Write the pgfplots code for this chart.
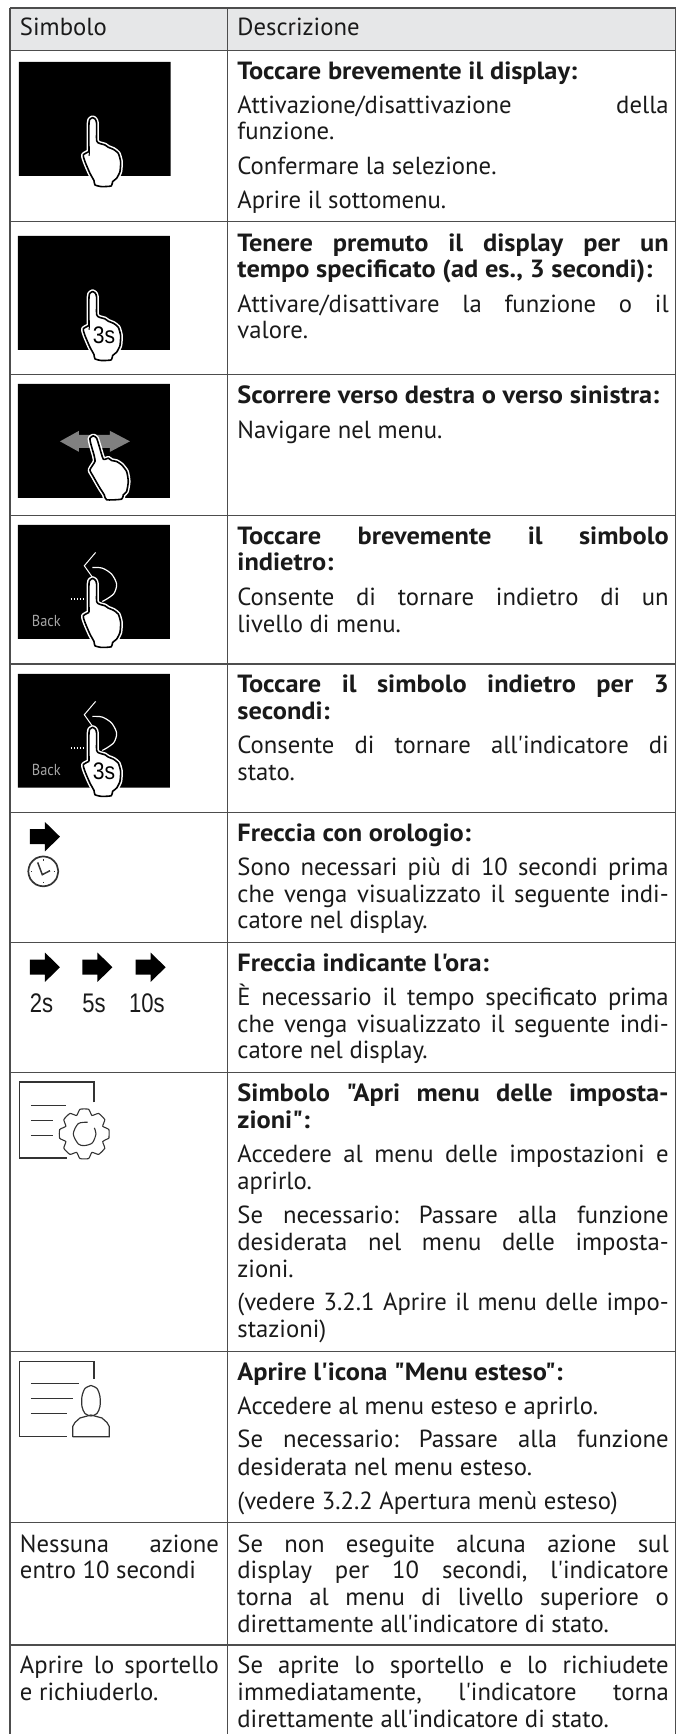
\documentclass[border=0pt]{standalone}
\usepackage{fontspec}
\usepackage{graphicx}
\usepackage{pgfplots}
\usepackage{pgfplotstable}
\pgfplotsset{compat=1.18}
\newfontfamily\bodyf{PT Sans}[BoldFeatures={FakeStretch=1.06}]
\newfontfamily\iconf{Liberation Sans}
\definecolor{txt}{HTML}{1A1A1A}
\definecolor{rule}{HTML}{4D4D4D}
\definecolor{head}{HTML}{E6E7E8}
\definecolor{ico}{HTML}{333333}
\newsavebox\mybox
\newcommand\fit[2]{\sbox\mybox{#2}\ifdim\wd\mybox>#1\relax\resizebox{#1}{\height}{\usebox\mybox}\else\makebox[#1][s]{#2}\fi}
\newcommand\txtsize{\frenchspacing\bodyf\fontsize{24.8}{26}\selectfont}
\renewcommand\textbf[1]{{\fontsize{25}{26}\bfseries #1}}
\tikzset{tx/.style={anchor=base west,inner sep=0pt,outer sep=0pt,text=txt}}
\newcommand\J[2]{\node[tx] at (axis cs:237.5,#1) {\txtsize\fit{431.5bp}{#2}};}
\newcommand\N[2]{\node[tx] at (axis cs:237.5,#1) {\txtsize #2};}
\newcommand\LJ[2]{\node[tx] at (axis cs:20,#1) {\txtsize\fit{199bp}{#2}};}
\newcommand\LN[2]{\node[tx] at (axis cs:20,#1) {\txtsize #2};}
\pgfplotstableread{
x y
57 125
57 40
60 28
68 23
76 28
80 40
80 92
88 100
105 105
115 112
130 118
145 130
152 155
150 185
140 205
128 215
124 228
95 230
75 225
72 212
60 190
45 155
40 135
57 125
}\handA
\pgfplotstableread{
x y
72 105
62 70
60 55
70 48
80 55
88 80
100 118
115 115
125 122
140 125
155 135
170 155
175 185
170 215
160 225
155 238
110 240
103 225
90 205
70 170
60 150
75 125
72 105
}\handB
\pgfplotstableread{
x y
45 43
90 43
90 22
135 66
90 110
90 88
45 88
45 43
}\arrowT
\pgfplotstableread{
x y
242 5
208 45
240 90
}\chev
\pgfplotstableread{
x y
232 50
262 52
290 70
305 100
297 128
275 145
262 152
}\backarc
\pgfplotstableread{
x y
168 145
212 145
}\dotsT
\pgfplotstableread{
x y
73.9 13
55.4 23
61.4 43
43 61.4
23 55.4
13 73.9
-13 73.9
-23 55.4
-43 61.4
-61.4 43
-55.4 23
-73.9 13
-73.9 -13
-55.4 -23
-61.4 -43
-43 -61.4
-23 -55.4
-13 -73.9
13 -73.9
23 -55.4
43 -61.4
61.4 -43
55.4 -23
73.9 -13
73.9 13
}\gear
\pgfplotstableread{
x y
218 143
190 147
175 178
190 208
208 213
232 205
243 178
238 160
}\gearin
\newcommand\Hand[3]{%
 \addplot[white,line width=4.6bp,smooth,tension=.35,line join=round] table[x expr=\thisrow{x}/3+#2,y expr=\thisrow{y}/3+#3]{#1};
 \addplot[black,fill=white,line width=1.6bp,smooth,tension=.35,line join=round] table[x expr=\thisrow{x}/3+#2,y expr=\thisrow{y}/3+#3]{#1};
}
\newcommand\Rect[4]{\addplot[fill=black,draw=none] coordinates {(#1,#3) (#2,#3) (#2,#4) (#1,#4) (#1,#3)};}
\newcommand\HL[1]{\addplot[rule,line width=1.3bp] coordinates {(10,#1) (676,#1)};}
\newcommand\Arr[2]{\addplot[fill=black,draw=none] table[x expr=\thisrow{x}/3+#1,y expr=\thisrow{y}/3+#2]{\arrowT};}
\newcommand\Back[1]{%
 \addplot[white,line width=1bp] table[x expr=\thisrow{x}/3+15,y expr=\thisrow{y}/3+#1]{\chev};
 \addplot[white,line width=1.2bp,smooth] table[x expr=\thisrow{x}/3+15,y expr=\thisrow{y}/3+#1]{\backarc};
 \addplot[white,line width=1.5bp,dash pattern=on 1.5bp off 1.5bp] table[x expr=\thisrow{x}/3+15,y expr=\thisrow{y}/3+#1]{\dotsT};
 \node[anchor=base west,inner sep=0pt,text=black!35] at (axis cs:31.7,#1+76) {\bodyf\fontsize{16}{18}\selectfont\scalebox{.9}[1]{Back}};
}
\newcommand\Three[1]{\node[anchor=base,inner sep=0pt,text=black] at (axis cs:104,#1) {\iconf\fontsize{24}{26}\selectfont\scalebox{.88}[1]{3s}};}
\begin{document}
\begin{tikzpicture}
\begin{axis}[scale only axis,width=687bp,height=1735bp,xmin=0,xmax=687,ymin=0,ymax=1735,
  y dir=reverse,hide axis,clip=false,no markers]
\addplot[fill=white,draw=none] coordinates {(0,0) (687,0) (687,1735) (0,1735) (0,0)};
\addplot[fill=head,draw=none] coordinates {(10,8) (676,8) (676,50.7) (10,50.7) (10,8)};
% rules
\HL{8}\HL{50.7}\HL{221.7}\HL{374.5}\HL{516}\HL{664.3}\HL{812.8}\HL{942.9}\HL{1073}\HL{1351.8}\HL{1523}\HL{1645.7}
\addplot[rule,line width=1.3bp] coordinates {(10,8) (10,1735)};
\addplot[rule,line width=1.3bp] coordinates {(227.5,8) (227.5,1735)};
\addplot[rule,line width=1.3bp] coordinates {(676,8) (676,1735)};
% black panels
\Rect{18.8}{170.7}{62}{176}
\Rect{18}{170}{236}{350}
\Rect{18}{170}{384}{498}
\Rect{18}{170}{525}{639}
\Rect{18}{170}{674}{788}
% row 3 arrow
\addplot[fill=black!50,draw=none] coordinates {(60,441.5) (79,431) (79,435) (110,435) (110,431) (130,441.5) (110,452) (110,448) (79,448) (79,452) (60,441.5)};
\Back{551}
\Back{700}
\Hand{\handA}{70}{110}
\Hand{\handA}{70}{284}
\Hand{\handB}{70}{420}
\Hand{\handA}{70}{571}
\Hand{\handA}{70}{720}
\addplot[black,line width=1bp] coordinates {(89.5,150) (89.2,156)};
\addplot[black,line width=1bp] coordinates {(89.5,324) (89.2,330)};
\Three{343.3}
\Three{779.3}
% clock row
\Arr{15}{815}
\addplot[ico,line width=1.7bp,smooth] coordinates {(58.3,871.7) (56.3,879.2) (50.8,884.7) (43.3,886.7) (35.8,884.7) (30.3,879.2) (28.3,871.7) (30.3,864.2) (35.8,858.7) (43.3,856.7) (50.8,858.7) (56.3,864.2) (58.3,871.7)};
\addplot[ico,line width=1.5bp] coordinates {(37.7,862.7) (42.3,875) (50,871)};
\addplot[ico,line width=1.2bp] coordinates {(43.3,859.5) (43.3,861)};
\addplot[ico,line width=1.2bp] coordinates {(43.3,882.3) (43.3,883.8)};
\addplot[ico,line width=1.2bp] coordinates {(54,871.7) (55.5,871.7)};
\addplot[ico,line width=1.2bp] coordinates {(31,871.7) (32.5,871.7)};
% timed arrows
\Arr{15}{945.6}
\Arr{67.5}{945.6}
\Arr{120.7}{945.6}
\node[anchor=base west,inner sep=0pt,text=txt] at (axis cs:29.8,1013) {\iconf\fontsize{27}{29}\selectfont\scalebox{.82}[1]{2s}};
\node[anchor=base west,inner sep=0pt,text=txt] at (axis cs:82.3,1013) {\iconf\fontsize{27}{29}\selectfont\scalebox{.82}[1]{5s}};
\node[anchor=base west,inner sep=0pt,text=txt] at (axis cs:129,1013) {\iconf\fontsize{27}{29}\selectfont\scalebox{.82}[1]{10s}};
% settings icon
\addplot[ico,line width=1.4bp] coordinates {(94,1102.7) (94,1082.3) (19.7,1082.3) (19.7,1158.3) (66.7,1158.3)};
\addplot[ico,line width=1.2bp] coordinates {(31,1105.7) (65.7,1105.7)};
\addplot[ico,line width=1.2bp] coordinates {(31,1121) (53.3,1121)};
\addplot[ico,line width=1.2bp] coordinates {(31,1136) (53.3,1136)};
\addplot[ico,line width=1.1bp,smooth,tension=.3] table[x expr=\thisrow{x}/3+84.33,y expr=\thisrow{y}/3+1134.33]{\gear};
\addplot[ico,line width=1.1bp,smooth] table[x expr=\thisrow{x}/3+15,y expr=\thisrow{y}/3+1075]{\gearin};
% person icon
\addplot[ico,line width=1.4bp] coordinates {(94,1379) (94,1361.7) (19.7,1361.7) (19.7,1437.3) (66.7,1437.3)};
\addplot[ico,line width=1.2bp] coordinates {(31,1384.3) (79,1384.3)};
\addplot[ico,line width=1.2bp] coordinates {(31,1399.3) (73.3,1399.3)};
\addplot[ico,line width=1.2bp] coordinates {(31,1414.3) (66.7,1414.3)};
\addplot[ico,line width=1.2bp,smooth] coordinates {(91,1386) (97,1389) (100,1397) (100,1407) (97,1414) (91,1416.5) (85,1414) (82,1407) (82,1397) (85,1389) (91,1386)};
\addplot[ico,line width=1.2bp] coordinates {(72.7,1437.3) (72.7,1427) (75,1423) (80,1418.5) (91,1415.5) (102,1418.5) (107,1423) (109.3,1427) (109.3,1437.3) (72.7,1437.3)};
% text
\node[tx] at (axis cs:20,36) {\txtsize Simbolo};
\node[tx] at (axis cs:237.5,36) {\txtsize Descrizione};
\N{79.3}{\textbf{Toccare brevemente il display:}}
\J{113.3}{Attivazione/disattivazione della}
\N{140}{funzione.}
\N{175}{Confermare la selezione.}
\N{208.3}{Aprire il sottomenu.}
\J{251.7}{\textbf{Tenere premuto il display per un}}
\N{278}{\textbf{tempo specificato (ad es., 3 secondi):}}
\J{312.7}{Attivare/disattivare la funzione o il}
\N{339}{valore.}
\N{403.3}{\textbf{Scorrere verso destra o verso sinistra:}}
\N{438.3}{Navigare nel menu.}
\J{544.3}{\textbf{Toccare brevemente il simbolo}}
\N{571}{\textbf{indietro:}}
\J{605.3}{Consente di tornare indietro di un}
\N{632.7}{livello di menu.}
\J{692.7}{\textbf{Toccare il simbolo indietro per 3}}
\N{720}{\textbf{secondi:}}
\J{754}{Consente di tornare all'indicatore di}
\N{780.7}{stato.}
\N{842}{\textbf{Freccia con orologio:}}
\J{876}{Sono necessari più di 10 secondi prima}
\J{902.9}{che venga visualizzato il seguente indi-}
\N{929.3}{catore nel display.}
\N{972}{\textbf{Freccia indicante l'ora:}}
\J{1006}{È necessario il tempo specificato prima}
\J{1032.9}{che venga visualizzato il seguente indi-}
\N{1059.3}{catore nel display.}
\J{1101.8}{\textbf{Simbolo "Apri menu delle imposta-}}
\N{1129.3}{\textbf{zioni":}}
\J{1162.5}{Accedere al menu delle impostazioni e}
\N{1190}{aprirlo.}
\J{1224}{Se necessario: Passare alla funzione}
\J{1250.7}{desiderata nel menu delle imposta-}
\N{1277.5}{zioni.}
\J{1310.7}{(vedere 3.2.1 Aprire il menu delle impo-}
\N{1337.5}{stazioni)}
\N{1380.7}{\textbf{Aprire l'icona "Menu esteso":}}
\N{1415}{Accedere al menu esteso e aprirlo.}
\J{1448.3}{Se necessario: Passare alla funzione}
\N{1475.7}{desiderata nel menu esteso.}
\N{1510}{(vedere 3.2.2 Apertura menù esteso)}
\LJ{1552.7}{Nessuna azione}
\LN{1579.3}{entro 10 secondi}
\J{1552.7}{Se non eseguite alcuna azione sul}
\J{1579.3}{display per 10 secondi, l'indicatore}
\J{1606}{torna al menu di livello superiore o}
\N{1632.7}{direttamente all'indicatore di stato.}
\LJ{1674.3}{Aprire lo sportello}
\LN{1701}{e richiuderlo.}
\J{1674.3}{Se aprite lo sportello e lo richiudete}
\J{1701}{immediatamente, l'indicatore torna}
\N{1727.7}{direttamente all'indicatore di stato.}
\end{axis}
\end{tikzpicture}
\end{document}
